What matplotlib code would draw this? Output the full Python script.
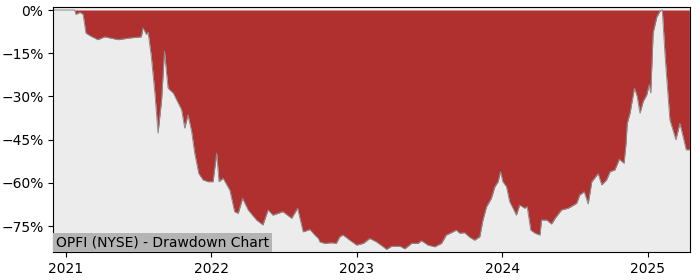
import pandas as pd
import matplotlib
matplotlib.use("Agg")
import matplotlib.pyplot as plt
import matplotlib.dates as mdates
import matplotlib.ticker as mticker

# drawdown readings (date, percent from peak)
dates = [
    "2020-12-03", "2021-01-24", "2021-01-27", "2021-02-06", "2021-02-14", "2021-02-21",
    "2021-03-03", "2021-03-23", "2021-04-09", "2021-05-13", "2021-06-11", "2021-07-10",
    "2021-07-14", "2021-07-23", "2021-07-27", "2021-08-04", "2021-08-13", "2021-08-21",
    "2021-08-30", "2021-09-06", "2021-09-15", "2021-09-19", "2021-09-28", "2021-10-06",
    "2021-10-19", "2021-10-27", "2021-11-04", "2021-11-13", "2021-11-21", "2021-12-01",
    "2021-12-12", "2021-12-25", "2022-01-06", "2022-01-15", "2022-01-21", "2022-01-31",
    "2022-02-17", "2022-03-01", "2022-03-10", "2022-03-21", "2022-04-04", "2022-04-25",
    "2022-05-11", "2022-05-24", "2022-06-05", "2022-06-30", "2022-07-22", "2022-08-06",
    "2022-08-20", "2022-09-06", "2022-09-18", "2022-09-27", "2022-10-01", "2022-10-13",
    "2022-10-30", "2022-11-11", "2022-11-20", "2022-11-28", "2022-12-15", "2023-01-01",
    "2023-01-18", "2023-02-03", "2023-02-20", "2023-03-09", "2023-03-17", "2023-03-30",
    "2023-04-20", "2023-05-02", "2023-05-19", "2023-06-04", "2023-06-13", "2023-06-29",
    "2023-07-16", "2023-08-02", "2023-08-14", "2023-08-31", "2023-09-08", "2023-09-17",
    "2023-09-29", "2023-10-12", "2023-10-24", "2023-11-06", "2023-11-14", "2023-11-23",
    "2023-12-05", "2023-12-14", "2023-12-22", "2023-12-28", "2024-01-03", "2024-01-12",
    "2024-01-20", "2024-02-06", "2024-02-14", "2024-02-27", "2024-03-04", "2024-03-13",
    "2024-03-24", "2024-04-05", "2024-04-09", "2024-04-22", "2024-05-04", "2024-05-13",
    "2024-05-29", "2024-06-15", "2024-07-06", "2024-07-14", "2024-07-25", "2024-08-04",
    "2024-08-13", "2024-08-29", "2024-09-07", "2024-09-19", "2024-09-28", "2024-10-10",
    "2024-10-21", "2024-11-02", "2024-11-07", "2024-11-10", "2024-11-17", "2024-11-28",
    "2024-12-05", "2024-12-12", "2024-12-20", "2024-12-29", "2025-01-04", "2025-01-08",
    "2025-01-14", "2025-01-23", "2025-01-31", "2025-02-06", "2025-02-13", "2025-02-18",
    "2025-02-25", "2025-03-12", "2025-03-22", "2025-03-30", "2025-04-07", "2025-04-15",
]
drawdown = [
    0, 0, -1.5, -0.8, -1.5, -8.0,
    -8.9, -10.3, -9.3, -10.3, -9.7, -9.3,
    -6.2, -8.5, -7.7, -16, -28.7, -42.7,
    -31, -14.3, -27, -27.7, -28.8, -31,
    -34.6, -41, -36.4, -42, -49.7, -56.7,
    -59, -59.6, -59.6, -49.7, -59.6, -58.4,
    -62.5, -70, -70.6, -65.4, -69.4, -72.9,
    -74.6, -69.4, -71.2, -70, -72.3, -68.8,
    -77, -76.2, -78.1, -79.3, -80.5, -81,
    -80.8, -81, -78.7, -78.1, -79.9, -81.6,
    -81, -79.3, -80.5, -82.2, -83.1, -82,
    -82, -82.9, -81, -81, -80.1, -81.6,
    -82.2, -81, -78.1, -77, -76.4, -77.5,
    -77.3, -78.9, -79.9, -78.7, -72.9, -68.3,
    -65.4, -61.3, -59.6, -56.1, -59.6, -61.3,
    -66.5, -71.2, -67.7, -68.8, -68.3, -76.4,
    -77.5, -78.1, -72.9, -72.9, -74.3, -72.3,
    -69.4, -68.8, -67.1, -64.2, -63.1, -67.3,
    -59.6, -56.8, -60.7, -59, -56.1, -55.5,
    -51.8, -53.2, -46.2, -39.3, -35.8, -27.1,
    -30, -35.8, -31.7, -29.4, -25.9, -28.8,
    -7.9, -2.5, -0.4, 0, -16, -25.3,
    -38.1, -45, -39.3, -43.9, -48.5, -48.5,
]
ticker_label = "OPFI (NYSE) - Drawdown Chart"

x = pd.to_datetime(dates)

fig = plt.figure(figsize=(7, 2.8), dpi=100)
ax = fig.add_axes([0.076, 0.099, 0.91, 0.875])
ax.set_facecolor("#ececec")

ax.fill_between(x, drawdown, 0, color="#b03030", linewidth=0)
ax.plot(x, drawdown, color="#8c8c8c", linewidth=0.7)

ax.set_xlim(pd.Timestamp("2020-12-01"), pd.Timestamp("2025-04-17"))
ax.set_ylim(-84.1, 0.95)
ax.set_yticks([0, -15, -30, -45, -60, -75])
ax.yaxis.set_major_formatter(mticker.PercentFormatter(decimals=0))
ax.xaxis.set_major_locator(mdates.YearLocator())
ax.xaxis.set_major_formatter(mdates.DateFormatter("%Y"))
ax.tick_params(labelsize=10)

ax.text(0.004, 0.012, ticker_label, transform=ax.transAxes, fontsize=10,
        ha="left", va="bottom",
        bbox=dict(facecolor="#b4b4b4", edgecolor="none", pad=2))

plt.savefig("out.png", dpi=100)
